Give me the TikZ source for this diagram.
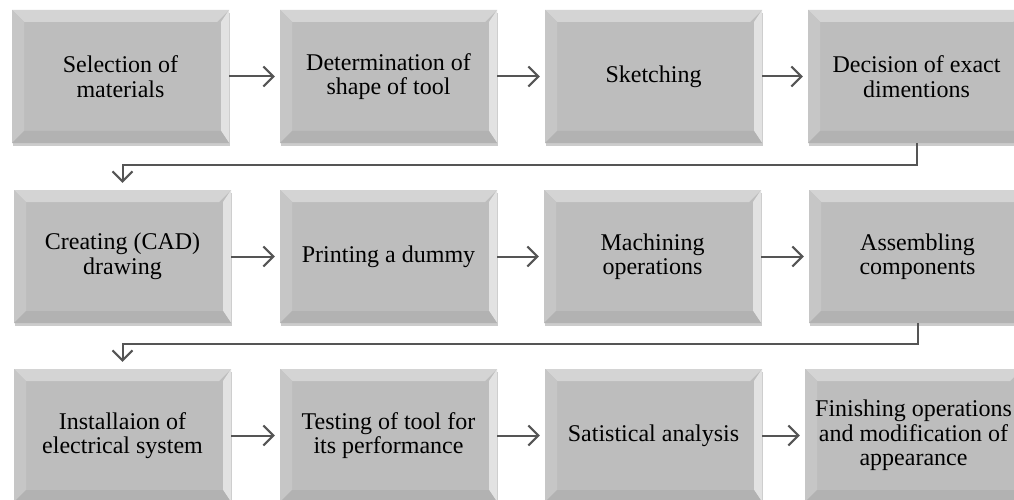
\documentclass[tikz,border=0pt]{standalone}
\usepackage{fontspec}
\setmainfont{Liberation Serif}
\usetikzlibrary{arrows.meta,shadows,calc}
\definecolor{face}{RGB}{189,189,189}
\definecolor{btop}{RGB}{212,212,212}
\definecolor{bleft}{RGB}{198,198,198}
\definecolor{bright}{RGB}{226,226,226}
\definecolor{bbot}{RGB}{178,178,178}
\definecolor{lnc}{RGB}{85,85,85}
\begin{document}
\begin{tikzpicture}[x=1pt,y=-1pt,
  bevbox/.style={rectangle, minimum width=217pt, minimum height=133pt, inner sep=0pt,
    fill=face, align=center, font=\fontsize{24}{24.5}\selectfont,
    drop shadow={shadow xshift=1pt, shadow yshift=-3pt, opacity=0.2, fill=black},
    path picture={
      \fill[btop] (path picture bounding box.north west) -- (path picture bounding box.north east)
        -- ([shift={(-12pt,-12pt)}]path picture bounding box.north east)
        -- ([shift={(12pt,-12pt)}]path picture bounding box.north west) -- cycle;
      \fill[bleft] (path picture bounding box.north west) -- ([shift={(12pt,-12pt)}]path picture bounding box.north west)
        -- ([shift={(12pt,12pt)}]path picture bounding box.south west)
        -- (path picture bounding box.south west) -- cycle;
      \fill[bright] (path picture bounding box.north east) -- ([shift={(-8pt,-12pt)}]path picture bounding box.north east)
        -- ([shift={(-8pt,12pt)}]path picture bounding box.south east)
        -- (path picture bounding box.south east) -- cycle;
      \fill[bbot] (path picture bounding box.south west) -- ([shift={(12pt,12pt)}]path picture bounding box.south west)
        -- ([shift={(-8pt,12pt)}]path picture bounding box.south east)
        -- (path picture bounding box.south east) -- cycle;
    }},
  conn/.style={draw=lnc, line width=2pt, -{Straight Barb[length=10pt,width=20pt,line width=2pt]}, shorten >=5pt}
]
\clip (0,0) rectangle (1014,500);
\fill[white] (0,0) rectangle (1014,500);
% row 1
\node[bevbox] (r1c1) at (120.5,76.5) {Selection of\\materials};
\node[bevbox] (r1c2) at (388.5,76.5) {Determination of\\shape of tool};
\node[bevbox] (r1c3) at (653.5,76.5) {Sketching};
\node[bevbox] (r1c4) at (916.5,76.5) {Decision of exact\\dimentions};
% row 2
\node[bevbox] (r2c1) at (122.5,256.5) {Creating (CAD)\\drawing};
\node[bevbox] (r2c2) at (388.5,256.5) {Printing a dummy};
\node[bevbox] (r2c3) at (652.5,256.5) {Machining\\operations};
\node[bevbox] (r2c4) at (917.5,256.5) {Assembling\\components};
% row 3
\node[bevbox] (r3c1) at (122.5,435.5) {Installaion of\\electrical system};
\node[bevbox] (r3c2) at (388.5,435.5) {Testing of tool for\\its performance};
\node[bevbox] (r3c3) at (653.5,435.5) {Satistical analysis};
\node[bevbox] (r3c4) at (913.5,435.5) {Finishing operations\\and modification of\\appearance};
% connectors
\draw[conn] (r1c1.east) -- (r1c2.west);
\draw[conn] (r1c2.east) -- (r1c3.west);
\draw[conn] (r1c3.east) -- (r1c4.west);
\draw[conn] (r2c1.east) -- (r2c2.west);
\draw[conn] (r2c2.east) -- (r2c3.west);
\draw[conn] (r2c3.east) -- (r2c4.west);
\draw[conn] (r3c1.east) -- (r3c2.west);
\draw[conn] (r3c2.east) -- (r3c3.west);
\draw[conn] (r3c3.east) -- (r3c4.west);
\draw[conn, shorten >=7pt] (r1c4.south) -- ++(0,22) -| (r2c1.north);
\draw[conn, shorten >=7pt] (r2c4.south) -- ++(0,21) -| (r3c1.north);
\end{tikzpicture}
\end{document}
